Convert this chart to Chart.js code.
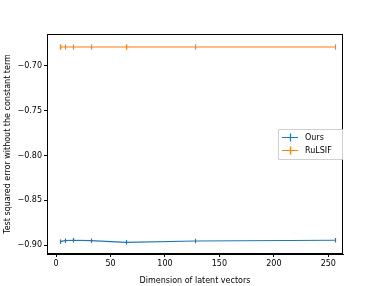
<!DOCTYPE html>
<html>
<head>
<meta charset="utf-8">
<script src="https://cdn.jsdelivr.net/npm/chart.js@4.4.0/dist/chart.umd.min.js"></script>
<style>
  html, body { margin: 0; padding: 0; background: #fff; }
  #wrap { width: 381px; height: 286px; }
</style>
</head>
<body>
<div id="wrap"><canvas id="chart" width="381" height="286"></canvas></div>
<script>
const dims = [4, 8, 16, 32, 64, 128, 256];
const oursErr = [-0.8960, -0.8949, -0.8944, -0.8949, -0.8967, -0.8952, -0.8944];
const rulsifErr = [-0.6792, -0.6792, -0.6792, -0.6792, -0.6792, -0.6792, -0.6792];
const oursStd = [0.0025, 0.0025, 0.0025, 0.0025, 0.0025, 0.0025, 0.0025];
const rulsifStd = [0.0030, 0.0030, 0.0030, 0.0030, 0.0030, 0.0030, 0.0030];
const xTicks = [0, 50, 100, 150, 200, 250];
const yTicks = [-0.90, -0.85, -0.80, -0.75, -0.70];

const BLUE = '#1f77b4';
const ORANGE = '#ff7f0e';
const FONT = 'DejaVu Sans';

function toPoints(ys) {
    return dims.map((d, i) => ({ x: d, y: ys[i] }));
}

// error bars, legend and the full frame
const extras = {
    id: 'extras',
    afterDatasetsDraw(chart) {
        const ctx = chart.ctx;
        const xs = chart.scales.x, ys = chart.scales.y;
        const sets = [[oursErr, oursStd, BLUE], [rulsifErr, rulsifStd, ORANGE]];
        ctx.save();
        sets.forEach(([vals, errs, col]) => {
            ctx.strokeStyle = col;
            ctx.lineWidth = 1.2;
            dims.forEach((d, i) => {
                const px = Math.round(xs.getPixelForValue(d)) + 0.5;
                const y0 = ys.getPixelForValue(vals[i] - errs[i]);
                const y1 = ys.getPixelForValue(vals[i] + errs[i]);
                ctx.beginPath();
                ctx.moveTo(px, y0);
                ctx.lineTo(px, y1);
                ctx.stroke();
            });
        });
        ctx.restore();
    },
    afterDraw(chart) {
        const ctx = chart.ctx;
        const a = chart.chartArea;
        ctx.save();
        ctx.strokeStyle = '#000';
        ctx.lineWidth = 1;
        ctx.strokeRect(Math.round(a.left) + 0.5, Math.round(a.top) + 0.5,
            Math.round(a.right - a.left) - 1, Math.round(a.bottom - a.top) - 1);

        // legend
        const lx = 278, ly = 129, lw = 64, lh = 30;
        ctx.fillStyle = 'rgba(255,255,255,0.8)';
        ctx.strokeStyle = '#d0d0d0';
        ctx.lineWidth = 1;
        ctx.beginPath();
        ctx.rect(lx + 0.5, ly + 0.5, lw, lh);
        ctx.fill();
        ctx.stroke();
        const items = [['Ours', BLUE], ['RuLSIF', ORANGE]];
        ctx.font = '8px "' + FONT + '"';
        ctx.textBaseline = 'middle';
        items.forEach(([label, col], i) => {
            const cy = ly + 8.5 + i * 13;
            ctx.strokeStyle = col;
            ctx.lineWidth = 1.2;
            ctx.beginPath();
            ctx.moveTo(lx + 4, cy);
            ctx.lineTo(lx + 20, cy);
            ctx.moveTo(lx + 12.5, cy - 4);
            ctx.lineTo(lx + 12.5, cy + 4);
            ctx.stroke();
            ctx.fillStyle = '#000';
            ctx.fillText(label, lx + 27, cy);
        });
        ctx.restore();
    }
};

new Chart(document.getElementById('chart'), {
    type: 'line',
    data: {
        datasets: [
            {
                label: 'Ours',
                data: toPoints(oursErr),
                borderColor: BLUE,
                borderWidth: 1.2,
                pointRadius: 0,
                tension: 0
            },
            {
                label: 'RuLSIF',
                data: toPoints(rulsifErr),
                borderColor: ORANGE,
                borderWidth: 1.2,
                pointRadius: 0,
                tension: 0
            }
        ]
    },
    options: {
        responsive: false,
        animation: false,
        events: [],
        layout: { padding: { top: 34, right: 38, left: 0, bottom: 0 } },
        plugins: {
            legend: { display: false },
            tooltip: { enabled: false }
        },
        scales: {
            x: {
                type: 'linear',
                min: -8.3,
                max: 263.5,
                afterBuildTicks: s => { s.ticks = xTicks.map(v => ({ value: v })); },
                afterFit: s => { s.height = 32; },
                grid: { display: true, drawOnChartArea: false, drawTicks: true, tickLength: 3, color: '#000' },
                border: { display: true, color: '#000' },
                ticks: {
                    color: '#000',
                    padding: 2,
                    font: { family: FONT, size: 8 },
                    callback: v => String(v)
                },
                title: {
                    display: true,
                    text: 'Dimension of latent vectors',
                    color: '#000',
                    font: { family: FONT, size: 8 },
                    padding: { top: 5.5, bottom: 0 }
                }
            },
            y: {
                type: 'linear',
                min: -0.9097,
                max: -0.6647,
                afterBuildTicks: s => { s.ticks = yTicks.map(v => ({ value: v })); },
                afterFit: s => { s.width = 47; },
                grid: { display: true, drawOnChartArea: false, drawTicks: true, tickLength: 3, color: '#000' },
                border: { display: true, color: '#000' },
                ticks: {
                    color: '#000',
                    padding: 2,
                    font: { family: FONT, size: 8 },
                    callback: v => '\u2212' + Math.abs(v).toFixed(2)
                },
                title: {
                    display: true,
                    text: 'Test squared error without the constant term',
                    color: '#000',
                    font: { family: FONT, size: 8 },
                    padding: { top: 3, bottom: 0 }
                }
            }
        }
    },
    plugins: [extras]
});
</script>
</body>
</html>
